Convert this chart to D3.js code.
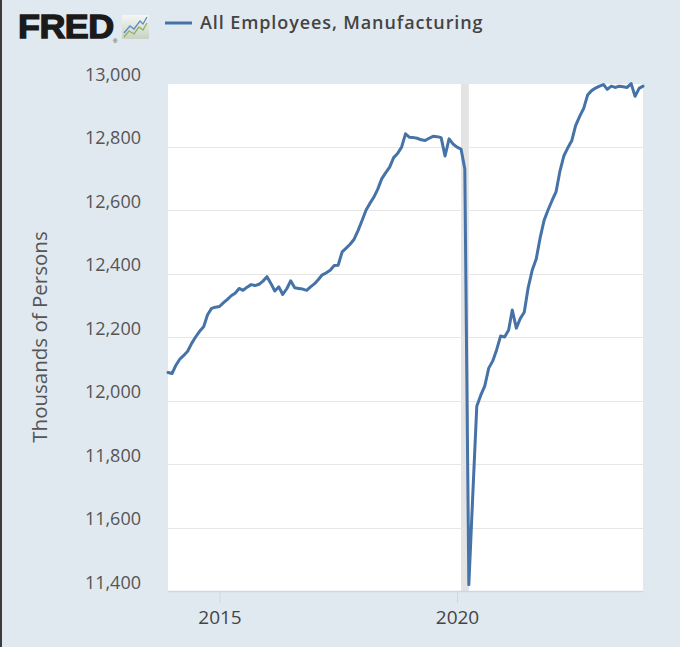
<!DOCTYPE html>
<html><head><meta charset="utf-8">
<script src="https://cdn.jsdelivr.net/npm/d3@7"></script>
<style>body{margin:0;background:#e1e9f0;overflow:hidden}svg{display:block}</style>
</head><body><svg id="c" width="680" height="647"></svg>
<script>
// ---- data (thousands of persons, monthly, Dec 2013 .. Dec 2023) ----
const firstMonth = "2013-12-01";
const lastMonth = "2023-12-01";
const employees = [
  12088, 12085, 12112, 12130, 12142, 12155, 12180, 12200, 12218, 12232, 12270, 12290,
  12294, 12296, 12308, 12318, 12330, 12338, 12353, 12347, 12357, 12365, 12362, 12366,
  12376, 12390, 12368, 12345, 12358, 12334, 12352, 12377, 12355, 12353, 12351, 12347,
  12358, 12368, 12382, 12396, 12402, 12410, 12425, 12426, 12468, 12480, 12492, 12508,
  12535, 12567, 12600, 12620, 12640, 12665, 12698, 12717, 12735, 12765, 12778, 12798,
  12840, 12829, 12828, 12826, 12821, 12819, 12826, 12832, 12831, 12828, 12770, 12824,
  12808, 12798, 12792, 12729, 11420, 11700, 11982, 12016, 12045, 12102, 12124, 12160,
  12203, 12200, 12222, 12285, 12228, 12258, 12278, 12355, 12410, 12446, 12512, 12568,
  12600, 12630, 12658, 12720, 12770, 12795, 12818, 12866, 12895, 12920, 12962, 12976,
  12984, 12990, 12995, 12980, 12990, 12986, 12990, 12988, 12986, 12998, 12958, 12983,
  12990
];
const yTicks = [11400, 11600, 11800, 12000, 12200, 12400, 12600, 12800, 13000];
const xTickYears = ["2015-01-01", "2020-01-01"];
const recessionStart = ["2020-02-01"];
const recessionEnd = ["2020-04-01"];
const seriesName = "All Employees, Manufacturing";
const yTitle = "Thousands of Persons";

// ---- layout ----
const W = 680, H = 647;
const plot = {left: 168, right: 643, top: 83, bottom: 591};
const lineColor = "#4572a7";
const font = "'Open Sans', 'Noto Sans', sans-serif";

const parse = d3.utcParse("%Y-%m-%d");
const months = d3.utcMonth.range(parse(firstMonth), d3.utcMonth.offset(parse(lastMonth), 1));
const data = months.map((d, i) => ({date: d, v: employees[i]}));

const x = d3.scaleUtc().domain([parse(firstMonth), parse(lastMonth)]).range([plot.left, plot.right]);
const y = d3.scaleLinear().domain([11400, 13000]).range([plot.bottom, plot.top]);

const svg = d3.select("#c");
svg.append("rect").attr("width", W).attr("height", H).attr("fill", "#e1e9f0");
svg.append("rect").attr("x", 0).attr("y", 0).attr("width", 2).attr("height", H).attr("fill", "#3c3c3c");

// plot background
svg.append("rect").attr("x", plot.left).attr("y", plot.top)
  .attr("width", plot.right - plot.left).attr("height", plot.bottom - plot.top).attr("fill", "#ffffff");

// recession shading
svg.selectAll("rect.rec").data(recessionStart.map((s, i) => [parse(s), parse(recessionEnd[i])]))
  .join("rect").attr("class", "rec")
  .attr("x", d => x(d[0])).attr("width", d => x(d[1]) - x(d[0]))
  .attr("y", plot.top).attr("height", plot.bottom - plot.top)
  .attr("fill", "#e3e3e3");

// gridlines
svg.append("g").selectAll("line").data(yTicks.filter(t => t > 11400))
  .join("line")
  .attr("x1", plot.left).attr("x2", plot.right)
  .attr("y1", d => Math.round(y(d)) + 0.5).attr("y2", d => Math.round(y(d)) + 0.5)
  .attr("stroke", "#e6e6e6").attr("stroke-width", 1);

// y axis labels
const yAxis = d3.axisLeft(y).tickValues(yTicks).tickSize(0).tickPadding(0)
  .tickFormat(d3.format(","));
const gy = svg.append("g").attr("transform", `translate(${141},0)`).call(yAxis);
gy.select(".domain").remove();
gy.selectAll("text").attr("font-family", font).attr("font-size", 18).attr("fill", "#555555")
  .attr("dy", "0.35em").attr("y", -9);

// x axis
const xAxis = d3.axisBottom(x).tickValues(xTickYears.map(parse)).tickSize(12).tickPadding(8)
  .tickFormat(d3.utcFormat("%Y"));
const gx = svg.append("g").attr("transform", `translate(0,${plot.bottom})`).call(xAxis);
gx.select(".domain").remove();
gx.selectAll("line").attr("stroke", "#ccd6eb");
gx.selectAll("text").attr("font-family", font).attr("font-size", 19).attr("fill", "#444444");
svg.append("line").attr("x1", plot.left).attr("x2", plot.right)
  .attr("y1", plot.bottom + 0.5).attr("y2", plot.bottom + 0.5)
  .attr("stroke", "#ccd6eb").attr("stroke-width", 1.5);

// y title
svg.append("text").attr("transform", `translate(47,${(230 + 444) / 2}) rotate(-90)`)
  .attr("text-anchor", "middle").attr("font-family", font).attr("font-size", 20.5)
  .attr("fill", "#555555").text(yTitle);

// series line
svg.append("path").datum(data)
  .attr("d", d3.line().x(d => x(d.date)).y(d => y(d.v)))
  .attr("fill", "none").attr("stroke", lineColor).attr("stroke-width", 3)
  .attr("stroke-linejoin", "round").attr("stroke-linecap", "round");

// ---- header: FRED logo + legend ----
const head = svg.append("g");
head.append("g").attr("transform", "translate(18,38) scale(1.09,1)")
  .append("text").attr("x", 0).attr("y", 0)
  .attr("font-family", "'Liberation Sans', Arial, sans-serif").attr("font-weight", 700)
  .attr("font-size", 33).attr("letter-spacing", -0.5)
  .attr("fill", "#1a1a1a").attr("stroke", "#1a1a1a").attr("stroke-width", 1.3)
  .text("FRED");
head.append("text").attr("x", 113).attr("y", 43).attr("font-family", "'Liberation Sans', sans-serif")
  .attr("font-size", 6).attr("fill", "#333").text("®");
// small chart icon
const defs = svg.append("defs");
const grad = defs.append("linearGradient").attr("id", "ig").attr("x1", 0).attr("y1", 0).attr("x2", 0).attr("y2", 1);
grad.append("stop").attr("offset", 0).attr("stop-color", "#f4f6f4");
grad.append("stop").attr("offset", 1).attr("stop-color", "#c9d2c4");
head.append("rect").attr("x", 122).attr("y", 15).attr("width", 27).attr("height", 24).attr("fill", "url(#ig)");
head.append("path").attr("d", "M124,33 L130,26 L134,29 L140,21 L143,24 L147,17")
  .attr("fill", "none").attr("stroke", "#5a8cc6").attr("stroke-width", 1.3);
head.append("path").attr("d", "M124,37 L129,31 L134,34 L139,27 L143,30 L147,23")
  .attr("fill", "none").attr("stroke", "#8fb25a").attr("stroke-width", 1.3);

head.append("line").attr("x1", 165).attr("x2", 192).attr("y1", 23).attr("y2", 23)
  .attr("stroke", lineColor).attr("stroke-width", 3);
head.append("text").attr("x", 200).attr("y", 29)
  .attr("font-family", font).attr("font-weight", 600).attr("font-size", 18)
  .attr("letter-spacing", 0.9)
  .attr("fill", "#444444").text(seriesName);
</script></body></html>
